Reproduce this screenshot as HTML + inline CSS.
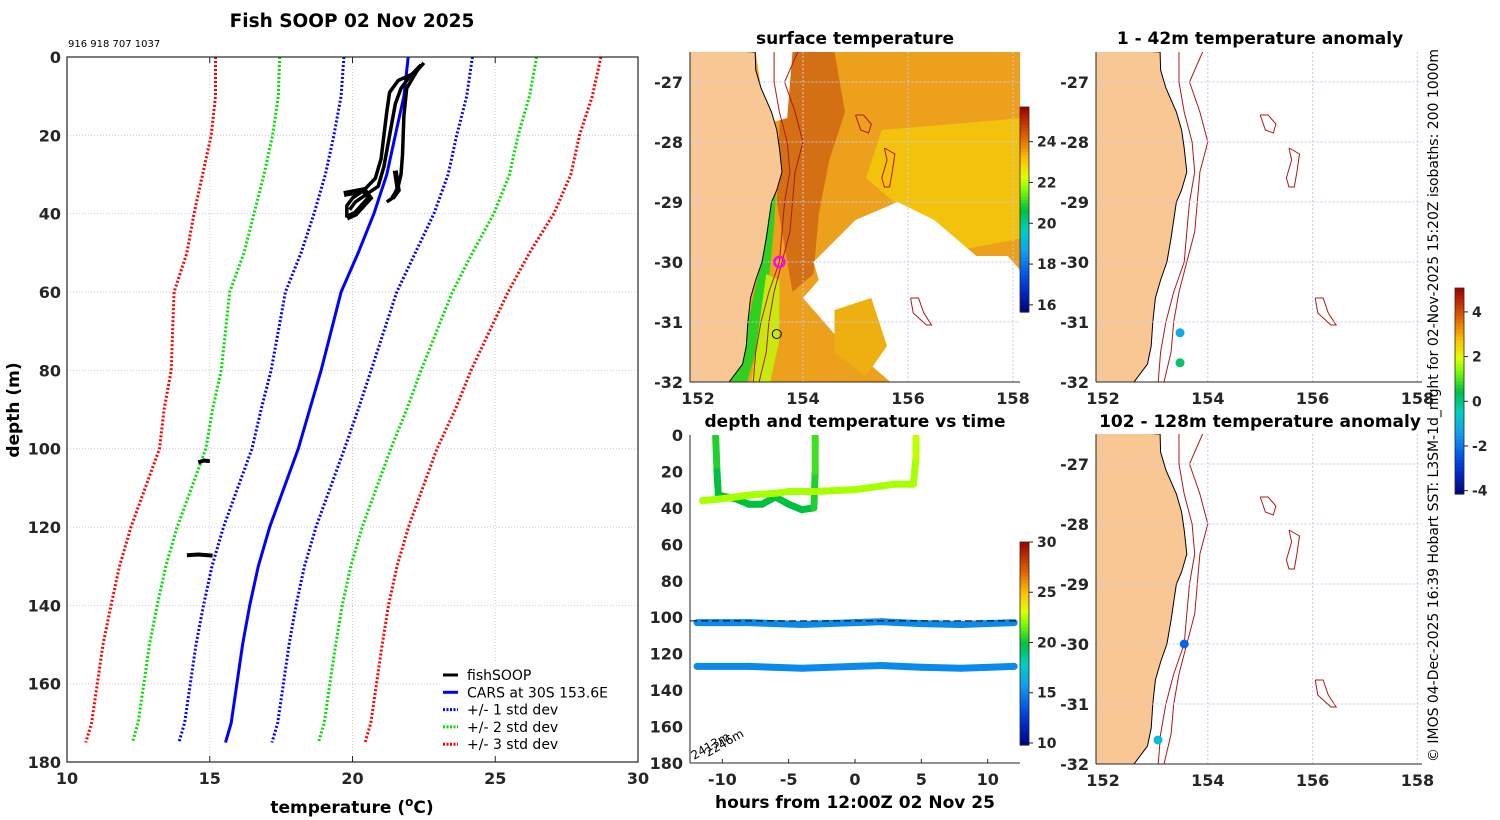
<!DOCTYPE html>
<html><head><meta charset="utf-8"><style>
html,body{margin:0;padding:0;background:#fff;}
svg{display:block;font-family:"DejaVu Sans","Liberation Sans",sans-serif;}
.tk{font-size:16px;font-weight:bold;fill:#262626;}
.ttl{font-size:17px;font-weight:bold;fill:#000;}
</style></head><body>
<svg id="fig" width="1500" height="820" viewBox="0 0 1500 820" xmlns="http://www.w3.org/2000/svg">
<defs>
<clipPath id="cMain"><rect x="67" y="57" width="571" height="705"/></clipPath>
<clipPath id="cMid"><rect x="690" y="52" width="330" height="330"/></clipPath>
<clipPath id="cTs"><rect x="690" y="435" width="330" height="328"/></clipPath>
<clipPath id="cR1"><rect x="1096" y="52" width="326" height="330"/></clipPath>
<clipPath id="cR2"><rect x="1096" y="434" width="326" height="330"/></clipPath>
</defs>
<g id="root"></g>
</svg>
<script>
// ---------- data ----------
const carsDepth=[0,10,20,30,40,50,60,70,80,90,100,110,120,130,140,150,160,170,175];
const carsMean=[21.95,21.8,21.5,21.2,20.75,20.2,19.6,19.25,18.9,18.5,18.1,17.6,17.1,16.7,16.4,16.15,15.95,15.75,15.55];
const carsSd=[2.25,2.2,2.15,2.15,2.1,2.0,1.95,1.85,1.75,1.7,1.62,1.62,1.62,1.62,1.62,1.63,1.63,1.63,1.63];
const fishL1T=[22.5,22.2,21.6,21.3,21.2,21.1,21.0,20.8,20.4,20.0,19.8,19.8];
const fishL1D=[1.5,4,6,9,14,20,26,31,34,36,38,41];
const fishL2T=[22.4,22.0,21.7,21.5,21.3,21.1,20.9,20.5,20.1,19.9];
const fishL2D=[2,5,8,12,20,28,33,35,37,39];
const fishRT=[22.3,21.9,21.8,21.75,21.7,21.6,21.4,21.2];
const fishRD=[3,8,15,25,30,33,36,37];
const fishDeepT=[[14.6,14.8,15.0],[14.2,14.6,15.1]];
const fishDeepD=[[103.5,103,103.2],[127.2,127,127.3]];
const xTicks=[10,15,20,25,30];
const yTicks=[0,20,40,60,80,100,120,140,160,180];
// time series
const tsGreenT=[-10.5,-10.4,-10.3,-9,-8,-7,-6,-5,-4,-3.1,-3,-3];
const tsGreenD=[1,20,33,35,38,38,34,38,41,40,20,0];
const tsGreenC=[21,20.5,20,20,20,20,20,20,20,20,20.5,21];
const tsYelT=[-11.5,-10,-8,-6,-5,-3,0,2,3,4.4,4.6,4.6];
const tsYelD=[36,35,33,32,31,31,30,28,27,27,12,1];
const tsYelC=[22.5,22.5,22.5,22.5,22.5,22.5,22.5,22.5,22.5,22.5,22.5,22.8];
const tsDeep1T=[-11.9,-8,-4,0,2,5,8,12];
const tsDeep1D=[103,103,104,103,102.5,103.5,104,103];
const tsDeep2T=[-11.9,-8,-4,0,2,5,8,12];
const tsDeep2D=[127,127,128,127,126.5,127.5,128,127];
const tsDeepC=15.3;
const tsXTicks=[-10,-5,0,5,10];
const tsYTicks=[0,20,40,60,80,100,120,140,160,180];
// maps
const coastLon=[153.09,153.1,153.2,153.4,153.5,153.55,153.6,153.5,153.4,153.35,153.3,153.22,153.1,153.0,152.95,152.92,152.85,152.55];
const coastLat=[-26.5,-26.8,-27.1,-27.5,-27.8,-28.1,-28.5,-28.8,-29.0,-29.3,-29.6,-30.0,-30.3,-30.6,-31.0,-31.4,-31.7,-32.05];
const iso200Lon=[153.45,153.45,153.55,153.7,153.75,153.65,153.6,153.55,153.35,153.2,153.1,153.05];
const iso1000Lon=[153.9,153.65,153.85,154.0,153.85,153.8,153.75,153.6,153.45,153.35,153.3,153.15];
const isoLat=[-26.5,-27,-27.5,-28,-28.5,-29,-29.5,-30,-30.5,-31,-31.5,-32.05];
const smLon=[[155.0,155.15,155.3,155.25,155.1,155.0],[155.55,155.75,155.7,155.65,155.55,155.5,155.6,155.55],[156.05,156.2,156.3,156.45,156.35,156.1,156.05]];
const smLat=[[-27.55,-27.55,-27.7,-27.85,-27.8,-27.55],[-28.1,-28.2,-28.5,-28.75,-28.75,-28.6,-28.3,-28.1],[-30.6,-30.6,-30.85,-31.05,-31.05,-30.85,-30.6]];
const anomTopLon=[153.47,153.47];
const anomTopLat=[-31.18,-31.68];
const anomTopVal=[-1.2,0.2];
const anomBotLon=[153.55,153.05];
const anomBotLat=[-30.0,-31.6];
const anomBotVal=[-2.2,-0.8];
const mapLonTicks=[152,154,156,158];
const mapLatTicks=[-27,-28,-29,-30,-31,-32];
const sstTicks=[16,18,20,22,24];
const tsCbTicks=[10,15,20,25,30];
const anCbTicks=[-4,-2,0,2,4];

// ---------- helpers ----------
const NS='http://www.w3.org/2000/svg';
const root=document.getElementById('root');
function mk(tag,attrs,parent){const e=document.createElementNS(NS,tag);for(const k in attrs)e.setAttribute(k,attrs[k]);(parent||root).appendChild(e);return e;}
const stops=[[0,[0,0,128]],[0.15,[0,64,224]],[0.3,[16,160,240]],[0.4,[0,208,192]],[0.5,[0,192,64]],[0.6,[128,255,0]],[0.66,[224,255,0]],[0.75,[255,192,0]],[0.86,[224,96,0]],[1,[160,0,0]]];
function cmap(v){v=Math.max(0,Math.min(1,v));for(let i=1;i<stops.length;i++){if(v<=stops[i][0]){const a=stops[i-1],b=stops[i],f=(v-a[0])/(b[0]-a[0]);const c=a[1].map((x,j)=>Math.round(x+(b[1][j]-x)*f));return 'rgb('+c.join(',')+')';}}return 'rgb(160,0,0)';}
function pts(xs,ys,fx,fy){return xs.map((x,i)=>fx(x).toFixed(1)+','+fy(ys[i]).toFixed(1)).join(' ');}

// ---------- main profile ----------
const X=t=>67+(t-10)*28.55, Y=d=>57+d*3.917;
let t=mk('text',{x:352,y:27,'text-anchor':'middle',class:'ttl','font-size':'18.5'});t.style.fontSize='18.5px';t.textContent='Fish SOOP 02 Nov 2025';


t=mk('text',{x:68,y:47,'font-size':'10',fill:'#000'});t.textContent='916 918 707 1037';


const mg=mk('g',{});


for(const v of xTicks.slice(1,-1)){const l=mk('line',{x1:X(v),x2:X(v),y1:57,y2:762,stroke:'#d8c8b8','stroke-dasharray':'1,2'},mg);}
for(const v of yTicks.slice(1,-1)){const l=mk('line',{x1:67,x2:638,y1:Y(v),y2:Y(v),stroke:'#c8c8e0','stroke-dasharray':'1,2'},mg);}
const cg=mk('g',{'clip-path':'url(#cMain)'},mg);
const sdCols=['#0000ff','#00e000','#ff0000'];
for(let k=1;k<=3;k++){for(const s of [-1,1]){
 const vals=carsMean.map((m,i)=>m+s*k*carsSd[i]);
 const l=mk('polyline',{points:pts(vals,carsDepth,X,Y),fill:'none',stroke:sdCols[k-1],'stroke-width':3,'stroke-dasharray':'2,2'},cg);
 
 
}}
let l=mk('polyline',{points:pts(carsMean,carsDepth,X,Y),fill:'none',stroke:'#0000ff','stroke-width':3},cg);


for(const [tt,dd,nm] of [[fishL1T,fishL1D,'fish-profile-1'],[fishL2T,fishL2D,'fish-profile-2'],[fishRT,fishRD,'fish-profile-3']]){
 l=mk('polyline',{points:pts(tt,dd,X,Y),fill:'none',stroke:'#000','stroke-width':3.5,'stroke-linejoin':'round'},cg);
 
 
}
for(let i=0;i<2;i++){l=mk('polyline',{points:pts(fishDeepT[i],fishDeepD[i],X,Y),fill:'none',stroke:'#000','stroke-width':4},cg);
 
 }
l=mk('polyline',{points:pts([19.7,20.4,20.6,20.1,19.8],[35,34,36,40,41],X,Y),fill:'none',stroke:'#000','stroke-width':6},cg);

l=mk('polyline',{points:pts([21.5,21.6,21.4],[29,34,36],X,Y),fill:'none',stroke:'#000','stroke-width':5},cg);

// legend
const lg=mk('g',{},mg);


mk('rect',{x:440,y:662,width:198,height:100,fill:'#fff',stroke:'none'},lg);
const legItems=[['fishSOOP','#000',''],['CARS at 30S 153.6E','#0000ff',''],['+/- 1 std dev','#0000ff','2,1.5'],['+/- 2 std dev','#00e000','2,1.5'],['+/- 3 std dev','#ff0000','2,1.5']];
legItems.forEach((it,i)=>{const y=675+i*17.3;const e=mk('g',{},lg);
 
 
 mk('line',{x1:443,x2:458,y1:y,y2:y,stroke:it[1],'stroke-width':3,'stroke-dasharray':it[2]||'none'},e);
 const tx=mk('text',{x:467,y:y+5,'font-size':'14',fill:'#000'},e);tx.textContent=it[0];});
const frame=mk('rect',{x:67,y:57,width:571,height:705,fill:'none',stroke:'#262626','stroke-width':1.2},mg);

for(const v of xTicks){t=mk('text',{x:X(v),y:784,'text-anchor':'middle',class:'tk'},mg);t.textContent=v;
 mk('line',{x1:X(v),x2:X(v),y1:762,y2:756,stroke:'#262626'},mg);mk('line',{x1:X(v),x2:X(v),y1:57,y2:63,stroke:'#262626'},mg);}
for(const v of yTicks){t=mk('text',{x:61,y:Y(v)+6,'text-anchor':'end',class:'tk'},mg);t.textContent=v;}
t=mk('text',{x:352,y:813,'text-anchor':'middle',class:'ttl'},mg);t.innerHTML='temperature (<tspan dy="-7" font-size="12">o</tspan><tspan dy="7">C)</tspan>';

t=mk('text',{x:0,y:0,transform:'translate(19,410) rotate(-90)','text-anchor':'middle',class:'ttl'},mg);t.textContent='depth (m)';


// ---------- map helpers ----------
function drawMap(g,mx,my,clip,isSST){
 const cg=mk('g',{'clip-path':'url(#'+clip+')'},g);
 if(isSST){
  mk('rect',{x:680,y:40,width:360,height:360,fill:'#eda01c'},cg);
  mk('polygon',{points:pts([153.6,154.6,154.8,154.5,154.3,154.2,153.8,153.5],[-26.5,-26.5,-27.5,-28.3,-29.2,-30.2,-30.5,-29],mx,my),fill:'#cf6a14',opacity:0.9},cg);
  mk('polygon',{points:pts([155.5,158.2,158.2,157,156,155.2],[-27.8,-27.6,-29.6,-29.8,-29.2,-28.6],mx,my),fill:'#f2c20c'},cg);
  mk('polygon',{points:pts([154.2,155,155.8,156.5,157.3,157.9,158.2,158.2,155.8,154.6,154.0,154.3],[-30.0,-29.3,-29.0,-29.3,-29.9,-29.9,-30.2,-32.1,-32.1,-31.2,-30.6,-30.3],mx,my),fill:'#ffffff'},cg);
  mk('polygon',{points:pts([154.6,155.3,155.6,155.2,154.6],[-30.8,-30.6,-31.4,-31.9,-31.5],mx,my),fill:'#eeb010'},cg);
  mk('polygon',{points:pts([153.1,153.8,153.7,153.3],[-26.5,-26.5,-27.6,-27.7],mx,my),fill:'#ffffff'},cg);
  mk('polygon',{points:pts([153.5,153.35,153.2,152.95,152.5,152.9,153.2,153.35,153.45],[-28.6,-29.3,-30.0,-31.0,-32.1,-32.1,-31.2,-30.3,-29.4],mx,my),fill:'#30d020'},cg);
  mk('polygon',{points:pts([153.3,153.55,153.55,153.35,153.0],[-30.2,-30.3,-31.3,-32.1,-32.1],mx,my),fill:'#c8e810'},cg);
  mk('polygon',{points:pts([156.0,157.3,157.6,156.6],[-30.2,-30.4,-30.9,-31.0],mx,my),fill:'#ffffff'},cg);
 }
 const land=coastLon.map(v=>v).concat([151,151]);const landLat=coastLat.concat([-32.1,-26.4]);
 mk('polygon',{points:pts(land,landLat,mx,my),fill:'#f9c794',stroke:'#000','stroke-width':1},cg);
 mk('polyline',{points:pts(iso200Lon,isoLat,mx,my),fill:'none',stroke:'#b01818','stroke-width':1},cg);
 mk('polyline',{points:pts(iso1000Lon,isoLat,mx,my),fill:'none',stroke:'#b01818','stroke-width':1},cg);
 for(let i=0;i<smLon.length;i++)mk('polyline',{points:pts(smLon[i],smLat[i],mx,my),fill:'none',stroke:'#b01818','stroke-width':1},cg);
 for(const v of mapLonTicks)mk('line',{x1:mx(v),x2:mx(v),y1:my(-26.5),y2:my(-32),stroke:'#c8c8e8','stroke-dasharray':'2,2'},cg);
 for(const v of mapLatTicks)mk('line',{x1:mx(151.8),x2:mx(158.2),y1:my(v),y2:my(v),stroke:'#c8c8e8','stroke-dasharray':'2,2'},cg);
 return cg;
}
function mapAxes(g,x0,x1,y0,y1,mx,my){
 mk('line',{x1:x0,x2:x0,y1:y0,y2:y1,stroke:'#262626'},g);mk('line',{x1:x0,x2:x1,y1:y1,y2:y1,stroke:'#262626'},g);
 for(const v of mapLonTicks){const tx=mk('text',{x:mx(v),y:y1+22,'text-anchor':'middle',class:'tk'},g);tx.textContent=v;}
 for(const v of mapLatTicks){const tx=mk('text',{x:x0-7,y:my(v)+6,'text-anchor':'end',class:'tk'},g);tx.textContent=v;}
}
function colorbar(g,x,y0,y1,vmin,vmax,ticks,name){
 const n=60,h=(y1-y0)/n;const cb=mk('g',{},g);
 
 
 for(let i=0;i<n;i++)mk('rect',{x:x,y:y1-(i+1)*h,width:9,height:h+0.6,fill:cmap((i+0.5)/n)},cb);
 mk('rect',{x:x,y:y0,width:9,height:y1-y0,fill:'none',stroke:'#262626','stroke-width':0.8},cb);
 for(const v of ticks){const yy=y1-(v-vmin)/(vmax-vmin)*(y1-y0);mk('line',{x1:x+9,x2:x+13,y1:yy,y2:yy,stroke:'#262626'},cb);
  const tx=mk('text',{x:x+17,y:yy+5,'font-size':'14','font-weight':'bold',fill:'#262626'},cb);tx.textContent=v;}
}

// ---------- SST map ----------
const MX=lon=>698+(lon-152)*52.5, MY=lat=>82+(-27-lat)*60;
const sg=mk('g',{});


t=mk('text',{x:855,y:44,'text-anchor':'middle',class:'ttl'},sg);t.textContent='surface temperature';

const scg=drawMap(sg,MX,MY,'cMid',true);
let c=mk('circle',{cx:MX(153.55),cy:MY(-30),r:5,fill:'none',stroke:'#ff00ff','stroke-width':2.5},scg);

c=mk('circle',{cx:MX(153.5),cy:MY(-31.2),r:4.5,fill:'none',stroke:'#000','stroke-width':1},scg);

mapAxes(sg,690,1020,52,382,MX,MY);
colorbar(sg,1020,107,312,15.65,25.7,sstTicks,'sst-colorbar');

// ---------- time series ----------
const TX=h=>855+h*13.27, TY=d=>435+d*1.822;
const tg=mk('g',{});


t=mk('text',{x:855,y:427,'text-anchor':'middle',class:'ttl'},tg);t.textContent='depth and temperature vs time';

const tcg=mk('g',{'clip-path':'url(#cTs)'},tg);
const tsCol=v=>cmap((v-10)/20);
function trace(ts,ds,cs,nm){for(let i=1;i<ts.length;i++){const s=mk('line',{x1:TX(ts[i-1]),y1:TY(ds[i-1]),x2:TX(ts[i]),y2:TY(ds[i]),stroke:tsCol(cs[i]),'stroke-width':7,'stroke-linecap':'round'},tcg);
 
 }}
trace(tsGreenT,tsGreenD,tsGreenC,'green-trace-segment');
trace(tsYelT,tsYelD,tsYelC,'yellow-trace-segment');
trace(tsDeep1T,tsDeep1D,tsDeep1T.map(()=>tsDeepC),'deep-trace-1-segment');
trace(tsDeep2T,tsDeep2D,tsDeep2T.map(()=>tsDeepC),'deep-trace-2-segment');
l=mk('line',{x1:690,x2:1020,y1:TY(102),y2:TY(102),stroke:'#000','stroke-width':1,'stroke-dasharray':'7,4'},tcg);

t=mk('text',{x:0,y:0,transform:'translate(694,760) rotate(-30)','font-size':'12',fill:'#000'},tg);t.textContent='2413m';

t=mk('text',{x:0,y:0,transform:'translate(708,757) rotate(-30)','font-size':'12',fill:'#000'},tg);t.textContent='2246m';

mk('line',{x1:690,x2:690,y1:435,y2:763,stroke:'#262626'},tg);mk('line',{x1:690,x2:1020,y1:763,y2:763,stroke:'#262626'},tg);
for(const v of tsXTicks){t=mk('text',{x:TX(v),y:785,'text-anchor':'middle',class:'tk'},tg);t.textContent=v;mk('line',{x1:TX(v),x2:TX(v),y1:763,y2:759,stroke:'#262626'},tg);}
for(const v of tsYTicks){t=mk('text',{x:683,y:TY(v)+6,'text-anchor':'end',class:'tk'},tg);t.textContent=v;}
t=mk('text',{x:855,y:808,'text-anchor':'middle',class:'ttl'},tg);t.textContent='hours from 12:00Z 02 Nov 25';

colorbar(tg,1020,542,745,9.8,30,tsCbTicks,'time-temp-colorbar');

// ---------- anomaly maps ----------
const RX=lon=>1103+(lon-152)*52.4, RY1=lat=>82+(-27-lat)*60, RY2=lat=>464+(-27-lat)*60;
const ac=v=>cmap((v+4.15)/9.22);
const ag1=mk('g',{});


t=mk('text',{x:1260,y:44,'text-anchor':'middle',class:'ttl'},ag1);t.textContent='1 - 42m temperature anomaly';

const a1c=drawMap(ag1,RX,RY1,'cR1',false);
anomTopLon.forEach((lo,i)=>{const d=mk('circle',{cx:RX(lo),cy:RY1(anomTopLat[i]),r:4.5,fill:ac(anomTopVal[i])},a1c);
 
 });
mapAxes(ag1,1096,1422,52,382,RX,RY1);
const ag2=mk('g',{});


t=mk('text',{x:1260,y:427,'text-anchor':'middle',class:'ttl'},ag2);t.textContent='102 - 128m temperature anomaly';

const a2c=drawMap(ag2,RX,RY2,'cR2',false);
anomBotLon.forEach((lo,i)=>{const d=mk('circle',{cx:RX(lo),cy:RY2(anomBotLat[i]),r:4.5,fill:ac(anomBotVal[i])},a2c);
 
 });
mapAxes(ag2,1096,1422,434,764,RX,RY2);
colorbar(root,1455,288,494,-4.15,5.07,anCbTicks,'anomaly-colorbar');
t=mk('text',{x:0,y:0,transform:'translate(1438,762) rotate(-90)','font-size':'14',textLength:'713',lengthAdjust:'spacingAndGlyphs',fill:'#000'});
t.textContent='\u00a9 IMOS 04-Dec-2025 16:39 Hobart SST: L3SM-1d_night for 02-Nov-2025 15:20Z isobaths: 200  1000m';


</script>
</body></html>
